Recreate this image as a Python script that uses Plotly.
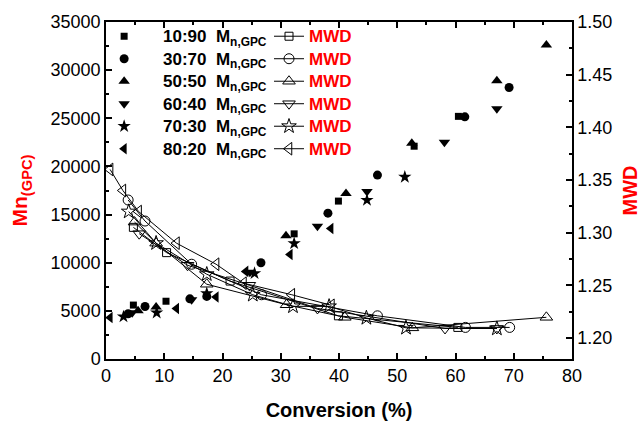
import plotly.graph_objects as go

# ---------------- data ----------------
ratios = ["10:90", "30:70", "50:50", "60:40", "70:30", "80:20"]

# Mn (GPC), filled markers, left axis
conv_mn_1090 = [4.7, 10.3, 32.3, 39.9, 52.9, 60.5]
mn_1090 = [5600, 6000, 13000, 16400, 22100, 25200]
conv_mn_3070 = [3.8, 6.7, 14.4, 17.3, 26.6, 38.1, 46.6, 61.6, 69.2]
mn_3070 = [4700, 5450, 6250, 6500, 10000, 15150, 19100, 25150, 28200]
conv_mn_5050 = [5.5, 8.6, 30.9, 41.2, 52.5, 67.1, 75.6]
mn_5050 = [5000, 5400, 12800, 17200, 22400, 28900, 32600]
conv_mn_6040 = [4.5, 14.7, 24.7, 36.3, 44.8, 58.1, 67.1]
mn_6040 = [4800, 6150, 9000, 13800, 17400, 22500, 26000]
conv_mn_7030 = [3.0, 8.7, 17.3, 25.5, 32.3, 44.8, 51.3]
mn_7030 = [4400, 4800, 6800, 8900, 12000, 16500, 18900]
conv_mn_8020 = [0.7, 12.1, 18.9, 24.0, 31.6, 38.6]
mn_8020 = [4300, 5250, 6450, 9100, 10850, 13550]

# MWD, open markers with lines, right axis
conv_mwd_1090 = [4.7, 10.4, 21.3, 39.9, 60.4]
mwd_1090 = [1.305, 1.281, 1.254, 1.221, 1.210]
conv_mwd_3070 = [3.8, 6.7, 14.7, 26.7, 46.6, 61.7, 69.3]
mwd_3070 = [1.331, 1.311, 1.270, 1.241, 1.221, 1.210, 1.210]
conv_mwd_5050 = [4.9, 8.6, 17.3, 31.0, 41.0, 52.6, 75.6]
mwd_5050 = [1.310, 1.290, 1.251, 1.2315, 1.2196, 1.2096, 1.2196]
conv_mwd_6040 = [5.7, 14.0, 24.6, 36.3, 58.2, 67.1]
mwd_6040 = [1.299, 1.269, 1.250, 1.228, 1.209, 1.209]
conv_mwd_7030 = [3.9, 8.6, 17.3, 25.2, 32.1, 38.3, 44.7, 51.5, 67.1]
mwd_7030 = [1.320, 1.290, 1.2605, 1.241, 1.230, 1.230, 1.219, 1.2096, 1.2089]
conv_mwd_8020 = [0.7, 2.9, 5.6, 12.1, 18.9, 23.6, 31.9, 38.7]
mwd_8020 = [1.360, 1.340, 1.320, 1.290, 1.270, 1.252, 1.241, 1.231]

mn_x = [conv_mn_1090, conv_mn_3070, conv_mn_5050, conv_mn_6040, conv_mn_7030, conv_mn_8020]
mn_y = [mn_1090, mn_3070, mn_5050, mn_6040, mn_7030, mn_8020]
mwd_x = [conv_mwd_1090, conv_mwd_3070, conv_mwd_5050, conv_mwd_6040, conv_mwd_7030, conv_mwd_8020]
mwd_y = [mwd_1090, mwd_3070, mwd_5050, mwd_6040, mwd_7030, mwd_8020]

symbols = ["square", "circle", "triangle-up", "triangle-down", "star", "triangle-left"]
sizes = [7, 9, 10, 10, 10, 10]

FONT = "Liberation Sans, Arial, sans-serif"
SP = "&nbsp;"

fig = go.Figure()
for i, r in enumerate(ratios):
    fig.add_trace(go.Scatter(
        x=mn_x[i], y=mn_y[i], mode="markers", yaxis="y",
        name=f'<span style="font-size:17px"><b>{SP*4}{r}{SP*2}M<sub>n,GPC</sub></b></span>',
        marker=dict(symbol=symbols[i], size=sizes[i], color="black", line=dict(width=0)),
        legend="legend",
    ))
for i, r in enumerate(ratios):
    fig.add_trace(go.Scatter(
        x=mwd_x[i], y=mwd_y[i], mode="lines+markers", yaxis="y2",
        name='<span style="font-size:17px"><b>MWD</b></span>',
        line=dict(color="black", width=1),
        marker=dict(symbol=symbols[i] + "-open", size=sizes[i] + 1, color="black",
                    line=dict(width=1, color="black")),
        legend="legend2",
    ))

axis_common = dict(
    showline=True, linecolor="black", linewidth=1.5,
    ticks="inside", ticklen=6, tickwidth=1.5, tickcolor="black",
    showgrid=False, zeroline=False, automargin=False,
    tickfont=dict(family=FONT, size=18, color="black"),
)

fig.update_layout(
    width=644, height=421,
    margin=dict(l=106, r=72, t=22, b=62, autoexpand=False),
    paper_bgcolor="white", plot_bgcolor="white",
    font=dict(family=FONT, color="black"),
    xaxis=dict(
        range=[0, 80], dtick=10, mirror="ticks",
        minor=dict(dtick=5, ticks="inside", ticklen=3, tickwidth=1.5, tickcolor="black"),
        title=dict(text="<b>Conversion (%)</b>", font=dict(family=FONT, size=20, color="black"), standoff=18),
        **axis_common,
    ),
    yaxis=dict(
        range=[0, 35000], dtick=5000, tickformat="d",
        minor=dict(dtick=2500, ticks="inside", ticklen=3, tickwidth=1.5, tickcolor="black"),
        title=dict(text="<b>Mn<sub>(GPC)</sub></b>", font=dict(family=FONT, size=21, color="red"), standoff=17),
        **axis_common,
    ),
    yaxis2=dict(
        range=[1.18, 1.50], dtick=0.05, tick0=1.2, tickformat=".2f",
        overlaying="y", side="right",
        minor=dict(dtick=0.025, ticks="inside", ticklen=3, tickwidth=1.5, tickcolor="black"),
        title=dict(text="<b>MWD</b>", font=dict(family=FONT, size=20, color="red"), standoff=12),
        **axis_common,
    ),
    legend=dict(
        x=-0.004, y=1.006, xanchor="left", yanchor="top",
        bgcolor="rgba(0,0,0,0)", borderwidth=0,
        font=dict(family=FONT, size=15, color="black"),
        tracegroupgap=0, itemwidth=30,
    ),
    legend2=dict(
        x=0.3498, y=1.006, xanchor="left", yanchor="top",
        bgcolor="rgba(0,0,0,0)", borderwidth=0,
        font=dict(family=FONT, size=15, color="red"),
        tracegroupgap=0, itemwidth=30,
    ),
    showlegend=True,
)

fig.write_html(
    "out.html",
    config=dict(displayModeBar=False),
    post_script="document.body.style.margin='0px';document.body.style.padding='0px';",
)
